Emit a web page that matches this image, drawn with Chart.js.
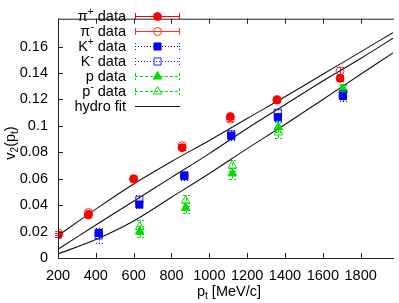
<!DOCTYPE html>
<html>
<head>
<meta charset="utf-8">
<script src="https://cdn.jsdelivr.net/npm/chart.js@4.4.0/dist/chart.umd.min.js"></script>
<style>
html, body { margin: 0; padding: 0; background: #fff; overflow: hidden; }
</style>
</head>
<body>
<canvas id="myChart" width="399" height="303"></canvas>
<script>
// tick values
const xTicks = [200, 400, 600, 800, 1000, 1200, 1400, 1600, 1800];
const yTicks = [0, 0.02, 0.04, 0.06, 0.08, 0.1, 0.12, 0.14, 0.16];

// pions
const piPlusPt  = [202, 361, 600, 856, 1111, 1358, 1691];
const piPlusV2  = [0.0175, 0.0325, 0.0600, 0.0835, 0.1070, 0.1195, 0.1360];
const piPlusErr = [0.0015, 0.0015, 0.0015, 0.0015, 0.0015, 0.0015, 0.002];
const piMinusPt  = [202, 361, 600, 856, 1111, 1358, 1691];
const piMinusV2  = [0.0190, 0.0345, 0.0595, 0.0850, 0.1050, 0.1200, 0.1415];
const piMinusErr = [0.0015, 0.0015, 0.0015, 0.0015, 0.0015, 0.0015, 0.003];

// kaons
const kPlusPt  = [415, 630, 868, 1116, 1362, 1706];
const kPlusV2  = [0.0190, 0.0405, 0.0620, 0.0925, 0.1065, 0.1225];
const kPlusErr = [0.004, 0.003, 0.003, 0.003, 0.003, 0.004];
const kMinusPt  = [415, 630, 868, 1116, 1362, 1706];
const kMinusV2  = [0.0170, 0.0440, 0.0625, 0.0935, 0.1100, 0.1240];
const kMinusErr = [0.006, 0.004, 0.003, 0.003, 0.003, 0.004];

// protons
const pPt  = [632, 875, 1122, 1365, 1708];
const pV2  = [0.0200, 0.0380, 0.0640, 0.0990, 0.1270];
const pErr = [0.004, 0.004, 0.004, 0.004, 0.004];
const pbarPt  = [632, 875, 1122, 1365, 1708];
const pbarV2  = [0.0235, 0.0435, 0.0700, 0.0950, 0.1280];
const pbarErr = [0.005, 0.004, 0.004, 0.004, 0.004];

// hydro fits
const fitPt   = [200, 400, 600, 800, 1000, 1200, 1400, 1600, 1800, 2000];
const fitPion = [0.0170, 0.0370, 0.0560, 0.0730, 0.0890, 0.1056, 0.1220, 0.1390, 0.1560, 0.1730];
const fitKaon = [0.0066, 0.0250, 0.0430, 0.0610, 0.0790, 0.0980, 0.1160, 0.1340, 0.1510, 0.1690];
const fitProt = [0.0031, 0.0140, 0.0280, 0.0460, 0.0640, 0.0828, 0.1010, 0.1200, 0.1390, 0.1580];

const seriesNames = ['π^+ data', 'π^- data', 'K^+ data', 'K^- data', 'p data', 'p^- data', 'hydro fit'];

const FONT = '"Liberation Sans", Arial, Helvetica, sans-serif';
const pts = (xs, ys) => xs.map((x, i) => ({ x: x, y: ys[i] }));

function marker(ds, color, style, radius, open, errors, dash, name) {
    return {
        label: name,
        data: ds,
        showLine: false,
        pointStyle: style,
        pointRadius: radius,
        pointBorderWidth: 1,
        pointBackgroundColor: open ? 'rgba(0,0,0,0)' : color,
        pointBorderColor: color,
        errorBars: errors,
        errColor: color,
        errDash: dash,
        markerOpen: open
    };
}

function fitLine(ys) {
    return {
        label: seriesNames[6],
        data: pts(fitPt, ys),
        showLine: true,
        pointRadius: 0,
        borderColor: '#111',
        borderWidth: 1.1,
        tension: 0.35,
        fill: false,
        isFit: true
    };
}

const datasets = [
    marker(pts(piPlusPt, piPlusV2), '#ff0000', 'circle', 4, false, piPlusErr, [], seriesNames[0]),
    marker(pts(piMinusPt, piMinusV2), '#ff2a2a', 'circle', 4, true, piMinusErr, [], seriesNames[1]),
    marker(pts(kPlusPt, kPlusV2), '#0000ff', 'rect', 5, false, kPlusErr, [1, 2], seriesNames[2]),
    marker(pts(kMinusPt, kMinusV2), '#2020ff', 'rect', 5, true, kMinusErr, [1, 2], seriesNames[3]),
    marker(pts(pPt, pV2), '#00dd00', 'triangle', 5, false, pErr, [3, 2], seriesNames[4]),
    marker(pts(pbarPt, pbarV2), '#00dd00', 'triangle', 5, true, pbarErr, [3, 2], seriesNames[5]),
    fitLine(fitPion),
    fitLine(fitKaon),
    fitLine(fitProt)
];

// draw "a^b rest" with superscript
function supText(ctx, str, x, y, size, align) {
    const m = str.match(/^(.*?)\^(.)(.*)$/);
    const parts = m ? [[m[1], 0, size], [m[2], -5, size * 0.7], [m[3], 0, size]] : [[str, 0, size]];
    let w = 0;
    parts.forEach(p => { ctx.font = p[2] + 'px ' + FONT; w += ctx.measureText(p[0]).width; });
    let cx = align === 'right' ? x - w : x;
    ctx.textAlign = 'left';
    parts.forEach(p => {
        ctx.font = p[2] + 'px ' + FONT;
        ctx.fillText(p[0], cx, y + p[1]);
        cx += ctx.measureText(p[0]).width;
    });
}

function drawMarker(ctx, ds, x, y) {
    const r = ds.pointRadius;
    ctx.beginPath();
    if (ds.pointStyle === 'circle') {
        ctx.arc(x, y, r, 0, Math.PI * 2);
    } else if (ds.pointStyle === 'rect') {
        const h = r * Math.SQRT1_2;
        ctx.rect(x - h, y - h, 2 * h, 2 * h);
    } else {
        ctx.moveTo(x, y - r);
        ctx.lineTo(x + r * 0.866, y + r * 0.5);
        ctx.lineTo(x - r * 0.866, y + r * 0.5);
        ctx.closePath();
    }
    ctx.lineWidth = 1;
    ctx.setLineDash([]);
    ctx.strokeStyle = ds.pointBorderColor;
    if (!ds.markerOpen) { ctx.fillStyle = ds.pointBackgroundColor; ctx.fill(); }
    ctx.stroke();
}

const gnuFrame = {
    id: 'gnuFrame',
    beforeDatasetsDraw(chart) {
        const ctx = chart.ctx, xs = chart.scales.x, ys = chart.scales.y;
        ctx.save();
        chart.data.datasets.forEach(ds => {
            if (!ds.errorBars) return;
            ctx.strokeStyle = ds.errColor;
            ctx.lineWidth = 1;
            ctx.setLineDash(ds.errDash);
            ds.data.forEach((d, j) => {
                const e = ds.errorBars[j];
                const px = Math.round(xs.getPixelForValue(d.x)) + 0.5;
                const y1 = ys.getPixelForValue(d.y - e), y2 = ys.getPixelForValue(d.y + e);
                ctx.beginPath();
                ctx.moveTo(px, y1); ctx.lineTo(px, y2);
                ctx.moveTo(px - 3.5, Math.round(y1) + 0.5); ctx.lineTo(px + 3.5, Math.round(y1) + 0.5);
                ctx.moveTo(px - 3.5, Math.round(y2) + 0.5); ctx.lineTo(px + 3.5, Math.round(y2) + 0.5);
                ctx.stroke();
            });
        });
        ctx.restore();
    },
    afterDraw(chart) {
        const ctx = chart.ctx, a = chart.chartArea, xs = chart.scales.x, ys = chart.scales.y;
        ctx.save();
        // frame
        ctx.strokeStyle = '#222';
        ctx.lineWidth = 1;
        ctx.setLineDash([]);
        ctx.beginPath();
        ctx.moveTo(a.left + 0.5, a.top + 0.5); ctx.lineTo(a.right + 1, a.top + 0.5);
        ctx.moveTo(a.left + 0.5, a.top); ctx.lineTo(a.left + 0.5, a.bottom + 0.5);
        ctx.moveTo(a.left, a.bottom + 0.5); ctx.lineTo(a.right + 1, a.bottom + 0.5);
        xTicks.forEach(v => {
            const px = Math.round(xs.getPixelForValue(v)) + 0.5;
            ctx.moveTo(px, a.bottom); ctx.lineTo(px, a.bottom - 5);
            ctx.moveTo(px, a.top); ctx.lineTo(px, a.top + 5);
        });
        yTicks.forEach(v => {
            const py = Math.round(ys.getPixelForValue(v)) + 0.5;
            ctx.moveTo(a.left, py); ctx.lineTo(a.left + 5, py);
        });
        ctx.stroke();

        // key
        ctx.fillStyle = '#000';
        ctx.textBaseline = 'middle';
        const rowY = [16, 31, 46, 61, 76, 91, 106];
        const shown = chart.data.datasets.slice(0, 7);
        shown.forEach((ds, i) => {
            const y = rowY[i];
            ctx.fillStyle = '#000';
            supText(ctx, seriesNames[i], 126, y + 1, 14.5, 'right');
            const yl = y + 0.5;
            if (ds.isFit) {
                ctx.strokeStyle = '#111';
                ctx.lineWidth = 1.1;
                ctx.setLineDash([]);
                ctx.beginPath(); ctx.moveTo(135, yl); ctx.lineTo(180, yl); ctx.stroke();
                return;
            }
            ctx.strokeStyle = ds.errColor;
            ctx.lineWidth = 1;
            ctx.setLineDash(ds.errDash);
            ctx.beginPath();
            ctx.moveTo(135, yl); ctx.lineTo(180, yl);
            ctx.moveTo(135.5, yl - 3.5); ctx.lineTo(135.5, yl + 3.5);
            ctx.moveTo(179.5, yl - 3.5); ctx.lineTo(179.5, yl + 3.5);
            ctx.stroke();
            drawMarker(ctx, ds, 157.5, yl);
        });

        // axis titles
        ctx.fillStyle = '#000';
        ctx.textBaseline = 'alphabetic';
        ctx.font = '14.5px ' + FONT;
        let t1 = 'p', t2 = 't', t3 = ' [MeV/c]';
        let w1 = ctx.measureText(t1).width, w3 = ctx.measureText(t3).width;
        ctx.font = '10px ' + FONT;
        let w2 = ctx.measureText(t2).width;
        let x0 = 229 - (w1 + w2 + w3) / 2, yb = 296;
        ctx.textAlign = 'left';
        ctx.font = '14.5px ' + FONT; ctx.fillText(t1, x0, yb);
        ctx.font = '10px ' + FONT; ctx.fillText(t2, x0 + w1, yb + 3);
        ctx.font = '14.5px ' + FONT; ctx.fillText(t3, x0 + w1 + w2, yb);

        ctx.translate(15, 143);
        ctx.rotate(-Math.PI / 2);
        const seg = [['v', 14.5, 0], ['2', 10, 3], ['(p', 14.5, 0], ['t', 10, 3], [')', 14.5, 0]];
        let tw = 0;
        seg.forEach(s => { ctx.font = s[1] + 'px ' + FONT; tw += ctx.measureText(s[0]).width; });
        let cx = -tw / 2;
        seg.forEach(s => {
            ctx.font = s[1] + 'px ' + FONT;
            ctx.fillText(s[0], cx, s[2]);
            cx += ctx.measureText(s[0]).width;
        });
        ctx.restore();
    }
};

const config = {
    type: 'scatter',
    data: { datasets: datasets },
    options: {
        responsive: false,
        animation: false,
        devicePixelRatio: 1,
        layout: { padding: { top: 1, right: 0, left: 0, bottom: 0 } },
        plugins: { legend: { display: false }, tooltip: { enabled: false } },
        scales: {
            x: {
                type: 'linear',
                min: 200,
                max: 1971,
                afterFit(s) { s.height = 45; },
                afterBuildTicks(s) { s.ticks = xTicks.map(v => ({ value: v })); },
                grid: { display: false, drawTicks: false },
                border: { display: false },
                ticks: {
                    padding: 9,
                    color: '#000',
                    autoSkip: false,
                    maxRotation: 0,
                    font: { family: FONT, size: 14.5 },
                    callback: v => String(v)
                }
            },
            y: {
                type: 'linear',
                min: 0,
                max: 0.1811,
                afterFit(s) { s.width = 58; },
                afterBuildTicks(s) { s.ticks = yTicks.map(v => ({ value: v })); },
                grid: { display: false, drawTicks: false },
                border: { display: false },
                ticks: {
                    padding: 10,
                    color: '#000',
                    autoSkip: false,
                    font: { family: FONT, size: 14.5 },
                    callback: v => String(Number(v.toFixed(2)))
                }
            }
        }
    },
    plugins: [gnuFrame]
};

const myChart = new Chart(document.getElementById('myChart'), config);
</script>
</body>
</html>
